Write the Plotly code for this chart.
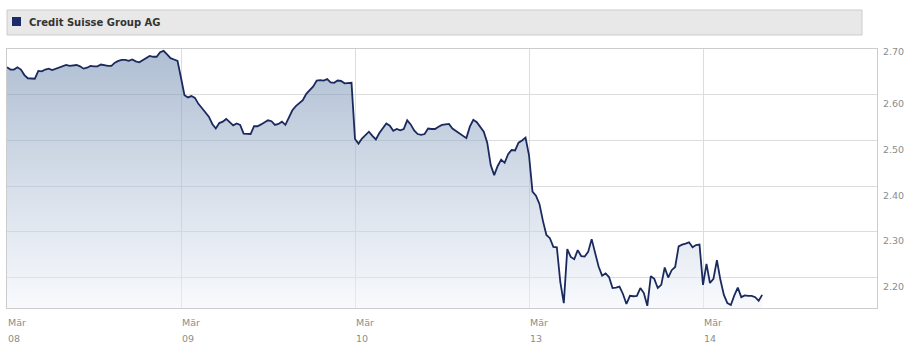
import plotly.graph_objects as go

# ---- data ----
series_name = "Credit Suisse Group AG"
day_months = ["Mär", "Mär", "Mär", "Mär", "Mär"]
day_labels = ["08", "09", "10", "13", "14"]
y_ticks = [2.20, 2.30, 2.40, 2.50, 2.60, 2.70]
y_tick_text = ["2.20", "2.30", "2.40", "2.50", "2.60", "2.70"]
bars_per_session = 50  # intraday bars per trading session

p_0308 = [2.660, 2.655, 2.655, 2.660, 2.655, 2.643, 2.636, 2.636, 2.635, 2.652,
          2.651, 2.655, 2.657, 2.654, 2.657, 2.659, 2.662, 2.665, 2.663, 2.664,
          2.665, 2.662, 2.657, 2.659, 2.663, 2.662, 2.662, 2.666, 2.664, 2.663,
          2.663, 2.670, 2.674, 2.676, 2.676, 2.674, 2.677, 2.673, 2.671, 2.676,
          2.680, 2.685, 2.683, 2.683, 2.693, 2.696, 2.688, 2.680, 2.677, 2.674]
p_0309 = [2.637, 2.599, 2.594, 2.597, 2.593, 2.580, 2.571, 2.562, 2.552, 2.536,
          2.526, 2.538, 2.541, 2.547, 2.541, 2.533, 2.537, 2.534, 2.515, 2.514,
          2.514, 2.531, 2.531, 2.535, 2.539, 2.544, 2.542, 2.534, 2.536, 2.541,
          2.534, 2.549, 2.566, 2.575, 2.582, 2.588, 2.602, 2.609, 2.618, 2.631,
          2.632, 2.631, 2.634, 2.627, 2.626, 2.631, 2.630, 2.625, 2.626, 2.626]
p_0310 = [2.503, 2.493, 2.504, 2.512, 2.519, 2.510, 2.502, 2.516, 2.527, 2.537,
          2.532, 2.521, 2.525, 2.522, 2.525, 2.544, 2.535, 2.522, 2.514, 2.512,
          2.514, 2.526, 2.525, 2.525, 2.530, 2.534, 2.535, 2.536, 2.526, 2.521,
          2.515, 2.510, 2.505, 2.530, 2.545, 2.540, 2.528, 2.519, 2.495, 2.446,
          2.424, 2.444, 2.458, 2.451, 2.470, 2.479, 2.478, 2.495, 2.500, 2.506]
p_0313 = [2.468, 2.388, 2.379, 2.361, 2.324, 2.293, 2.286, 2.267, 2.266, 2.190,
          2.144, 2.262, 2.245, 2.240, 2.260, 2.247, 2.246, 2.256, 2.284, 2.256,
          2.224, 2.204, 2.209, 2.201, 2.177, 2.178, 2.180, 2.164, 2.142, 2.160,
          2.159, 2.160, 2.177, 2.166, 2.138, 2.203, 2.197, 2.177, 2.184, 2.222,
          2.200, 2.216, 2.223, 2.268, 2.272, 2.274, 2.277, 2.266, 2.271, 2.272]
p_0314 = [2.184, 2.230, 2.188, 2.197, 2.238, 2.195, 2.162, 2.144, 2.140, 2.161,
          2.178, 2.157, 2.161, 2.160, 2.160, 2.157, 2.149, 2.162]

sessions = [p_0308, p_0309, p_0310, p_0313, p_0314]

xs, ys = [], []
for d, prices in enumerate(sessions):
    for i, p in enumerate(prices):
        xs.append(d + i / bars_per_session)
        ys.append(p)

y_min, y_max = 2.1333, 2.70
font_family = "DejaVu Sans"
label_color = "#8c8c8c"

fig = go.Figure()
fig.add_trace(go.Scatter(
    x=xs, y=ys, mode="lines",
    line=dict(color="#1b2a5e", width=1.8),
    fill="tozeroy",
    fillgradient=dict(type="vertical", start=y_min, stop=y_max,
                      colorscale=[[0, "rgba(241,245,251,0.5)"],
                                  [1, "rgba(100,130,170,0.52)"]]),
    hoverinfo="skip", showlegend=False,
))

annotations = []
for v, t in zip(y_ticks, y_tick_text):
    annotations.append(dict(
        x=1, xref="paper", y=v, yref="y", text=t, showarrow=False,
        xanchor="left", yanchor="middle", xshift=4,
        yshift=-2 if v == y_max else -9,
        font=dict(family=font_family, size=9.5, color=label_color)))
for d, (m, lab) in enumerate(zip(day_months, day_labels)):
    annotations.append(dict(
        x=d, xref="x", y=0, yref="paper", text=m, showarrow=False,
        xanchor="left", yanchor="middle", xshift=-1, yshift=-14,
        font=dict(family=font_family, size=9.5, color=label_color)))
    annotations.append(dict(
        x=d, xref="x", y=0, yref="paper", text=lab, showarrow=False,
        xanchor="left", yanchor="middle", xshift=-1, yshift=-30,
        font=dict(family=font_family, size=9.5, color=label_color)))

# legend header box
annotations.append(dict(
    x=0.023, xref="paper", y=1.102, yref="paper",
    text="<b>" + series_name + "</b>", showarrow=False,
    xanchor="left", yanchor="middle",
    font=dict(family=font_family, size=10, color="#333333")))

shapes = [
    dict(type="rect", xref="paper", yref="paper", x0=0, x1=0.9828,
         y0=1.054, y1=1.1506, fillcolor="#e8e8e8",
         line=dict(color="#cccccc", width=1), layer="above"),
    dict(type="rect", xref="paper", yref="paper", x0=0.00575, x1=0.0161,
         y0=1.0888, y1=1.1236, fillcolor="#1a2a6b",
         line=dict(width=0), layer="above"),
]

fig.update_layout(
    width=917, height=354,
    margin=dict(l=7, r=40, t=49, b=46),
    paper_bgcolor="white", plot_bgcolor="white",
    font=dict(family=font_family, size=9.5, color=label_color),
    annotations=annotations, shapes=shapes,
    xaxis=dict(range=[0, 5], tickvals=list(range(len(day_labels))),
               showticklabels=False, ticks="", showgrid=True,
               gridcolor="#dddddd", gridwidth=1, zeroline=False,
               showline=True, linecolor="#cccccc", linewidth=1, mirror=True,
               fixedrange=True),
    yaxis=dict(range=[y_min, y_max], tickvals=y_ticks, showticklabels=False,
               ticks="", showgrid=True, gridcolor="#dddddd", gridwidth=1,
               zeroline=False, showline=True, linecolor="#cccccc",
               linewidth=1, mirror=True, fixedrange=True),
)

fig.write_html("out.html", config={"displayModeBar": False})
